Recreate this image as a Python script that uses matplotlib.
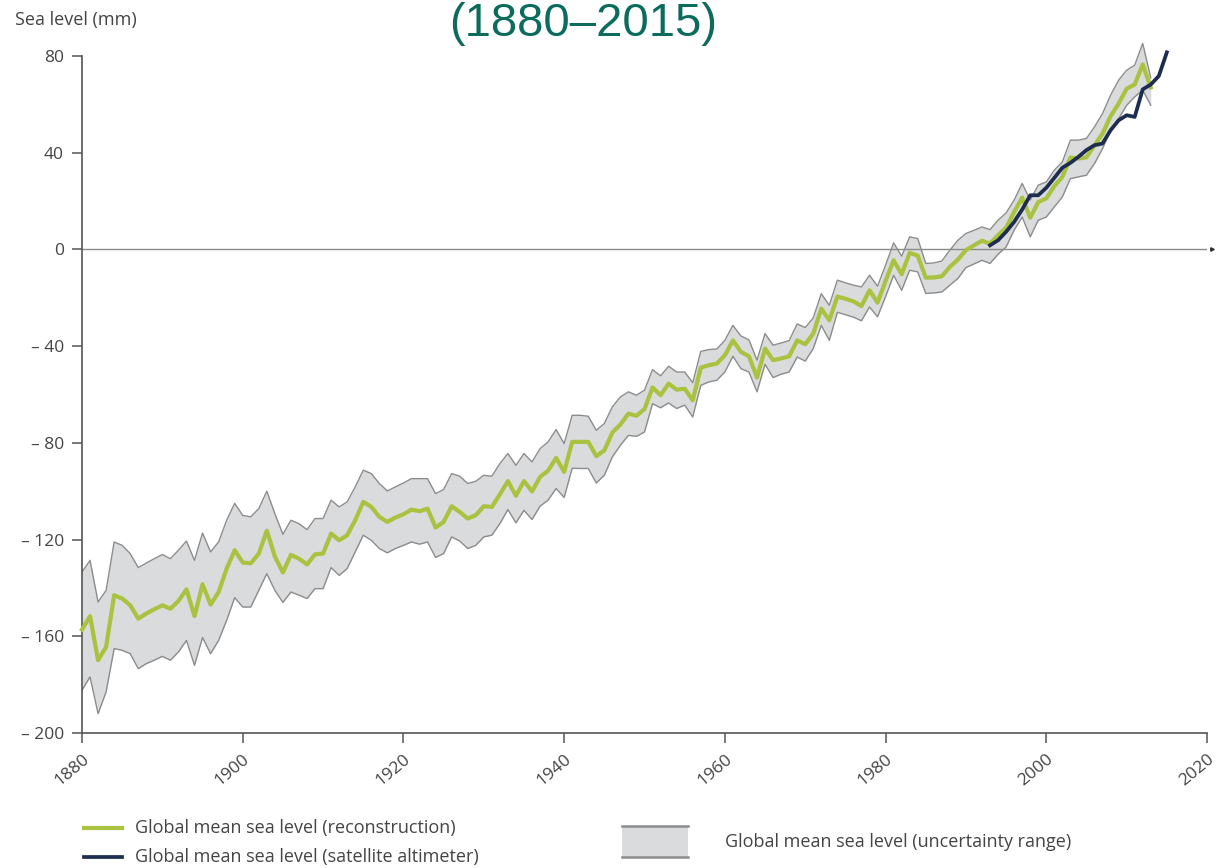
#!/usr/bin/env python3
"""
Global mean sea level, 1880-2015: tide-gauge reconstruction with its
uncertainty band, plus the satellite altimeter record.
"""

import numpy as np
import matplotlib
matplotlib.use("Agg")
import matplotlib.pyplot as plt
from matplotlib.lines import Line2D
from matplotlib.patches import Rectangle

# Reconstruction, yearly 1880-2013 (mm, relative to 1990s level)
recon_years = list(range(1880, 2014))
recon_mm = [
    -157.2, -151.7, -169.9, -164.4, -143.0, -144.4, -147.2, -152.7, -150.6, -148.8,
    -147.2, -148.6, -145.4, -140.6, -151.7, -138.5, -146.9, -141.7, -132.0, -124.4,
    -129.5, -129.8, -125.8, -116.3, -127.0, -133.6, -126.3, -127.9, -130.3, -126.1,
    -125.8, -117.5, -120.3, -118.2, -112.0, -104.4, -106.5, -110.6, -112.7, -110.9,
    -109.5, -107.6, -108.3, -107.2, -115.0, -112.7, -106.2, -108.6, -111.3, -109.9,
    -106.2, -106.5, -101.3, -95.8, -101.9, -95.8, -100.1, -94.1, -91.5, -86.2,
    -92.0, -79.6, -79.6, -79.6, -85.5, -83.1, -75.7, -72.4, -67.9, -68.8,
    -66.0, -57.1, -60.3, -55.5, -58.0, -57.6, -62.4, -48.9, -47.9, -47.2,
    -43.8, -37.6, -42.4, -44.2, -53.0, -41.0, -45.8, -45.1, -44.2, -37.6,
    -39.2, -34.8, -24.5, -29.3, -19.5, -20.4, -21.5, -23.4, -16.9, -22.0,
    -13.0, -4.5, -10.3, -1.4, -2.6, -11.7, -11.6, -11.1, -7.2, -4.2,
    -0.3, 1.7, 3.6, 2.4, 5.9, 9.0, 15.5, 21.4, 13.1, 19.6,
    21.1, 26.2, 30.0, 38.0, 37.6, 38.1, 43.1, 47.9, 55.1, 60.3,
    66.5, 68.2, 76.5, 67.0,
]
recon_upper = [
    -133.4, -128.6, -145.8, -141.0, -121.0, -122.4, -125.8, -131.6, -129.7, -127.9,
    -126.2, -127.9, -124.4, -120.6, -128.6, -117.3, -125.1, -121.0, -112.0, -105.0,
    -110.0, -110.6, -107.2, -100.0, -109.3, -117.8, -112.0, -113.4, -115.9, -111.3,
    -111.3, -103.7, -106.5, -104.4, -98.2, -91.3, -92.7, -96.8, -99.9, -98.2,
    -96.6, -94.8, -94.8, -94.8, -101.0, -99.3, -92.7, -93.8, -96.8, -95.9,
    -93.4, -93.8, -88.6, -84.4, -89.3, -84.4, -87.9, -82.4, -79.6, -74.5,
    -80.3, -68.6, -68.6, -69.0, -74.8, -72.0, -65.1, -61.0, -58.9, -60.3,
    -58.2, -49.7, -52.3, -48.3, -50.7, -50.7, -55.1, -42.2, -41.4, -41.2,
    -37.6, -31.4, -35.8, -37.4, -45.8, -34.8, -39.6, -38.7, -37.7, -30.8,
    -32.3, -28.3, -18.3, -23.1, -12.7, -13.8, -14.8, -15.5, -10.7, -15.2,
    -6.5, 2.7, -2.8, 5.2, 4.5, -5.8, -5.6, -4.8, -0.3, 3.8,
    6.6, 7.9, 9.3, 8.2, 12.1, 15.1, 20.4, 27.3, 20.4, 26.6,
    27.9, 32.8, 36.2, 45.2, 45.2, 45.9, 50.7, 56.2, 63.8, 70.0,
    74.1, 76.2, 85.2, 71.0,
]
recon_lower = [
    -182.3, -176.8, -192.0, -183.0, -165.1, -165.8, -167.2, -173.4, -171.3, -169.9,
    -168.3, -169.9, -166.5, -161.7, -172.0, -160.5, -167.2, -161.7, -153.4, -144.0,
    -147.9, -147.9, -141.0, -134.1, -141.0, -146.0, -141.7, -143.0, -144.4, -140.3,
    -140.3, -131.6, -134.8, -132.0, -125.1, -118.2, -120.3, -123.7, -125.5, -123.7,
    -122.4, -121.0, -121.9, -121.0, -127.4, -125.8, -118.9, -120.6, -123.7, -122.4,
    -118.9, -118.2, -113.4, -107.6, -113.1, -107.9, -111.7, -106.2, -103.7, -98.9,
    -102.6, -90.5, -90.6, -90.6, -96.6, -93.4, -85.8, -81.0, -76.9, -77.3,
    -75.5, -63.8, -65.5, -63.5, -65.8, -64.4, -69.3, -56.2, -54.8, -54.1,
    -50.7, -44.2, -49.3, -50.7, -58.9, -47.5, -53.0, -51.6, -50.7, -44.5,
    -46.2, -41.0, -31.4, -37.6, -26.0, -27.0, -28.0, -29.5, -23.8, -27.9,
    -19.5, -10.7, -16.9, -8.6, -9.3, -18.2, -18.0, -17.6, -14.8, -12.0,
    -7.5, -6.0, -4.5, -5.8, -2.0, 1.0, 8.0, 13.4, 5.2, 12.1,
    13.4, 17.6, 21.7, 29.3, 30.0, 30.7, 35.5, 41.7, 49.3, 54.1,
    59.6, 63.1, 65.9, 59.6,
]

# Satellite altimetry, yearly 1993-2015 (mm)
sat_years = list(range(1993, 2016))
sat_mm = [
    1.7, 3.8, 7.3, 11.4, 16.5, 22.4, 22.4, 25.5, 29.6, 33.8,
    35.8, 38.3, 41.1, 43.1, 43.8, 49.3, 53.4, 55.5, 54.8, 66.2,
    68.2, 71.7, 81.5,
]

y_ticks = [80, 40, 0, -40, -80, -120, -160, -200]
x_ticks = [1880, 1900, 1920, 1940, 1960, 1980, 2000, 2020]

GREEN = "#a9c23f"
NAVY = "#1c2d4f"
BAND = "#dadbdd"
BAND_EDGE = "#8c8c8c"
TEXT = "#444444"
AXIS = "#555555"

plt.rcParams["font.family"] = ["Open Sans", "DejaVu Sans"]

fig = plt.figure(figsize=(12.3, 8.68), dpi=100)
W, H = 1230, 868
ax = fig.add_axes([82 / W, 1 - 733 / H, (1207 - 82) / W, (733 - 56) / H])

# the series run a little above the 80 mm top of the axis, so no clipping
ax.fill_between(recon_years, recon_lower, recon_upper, color=BAND, lw=0,
                zorder=1, clip_on=False)
ax.plot(recon_years, recon_upper, color=BAND_EDGE, lw=1.0, zorder=2, clip_on=False)
ax.plot(recon_years, recon_lower, color=BAND_EDGE, lw=1.0, zorder=2, clip_on=False)
ax.axhline(0, color="#8a8a8a", lw=1.0, zorder=1.5)
ax.plot(recon_years, recon_mm, color=GREEN, lw=3.0, zorder=3, clip_on=False)
ax.plot(sat_years, sat_mm, color=NAVY, lw=2.7, zorder=4, clip_on=False)

ax.set_xlim(1880, 2020)
ax.set_ylim(-200, 80)
for side in ("top", "right"):
    ax.spines[side].set_visible(False)
for side in ("left", "bottom"):
    ax.spines[side].set_color(AXIS)
    ax.spines[side].set_linewidth(1.2)

ax.set_yticks(y_ticks)
ax.set_yticklabels([str(v) if v >= 0 else "\u2013 " + str(-v) for v in y_ticks])
ax.set_xticks(x_ticks)
ax.set_xticklabels([str(v) for v in x_ticks], rotation=40, ha="right",
                   va="top", rotation_mode="anchor")
ax.tick_params(axis="both", colors=AXIS, labelcolor=TEXT, labelsize=12.5,
               length=7, width=1.1)
ax.tick_params(axis="y", pad=6)
ax.tick_params(axis="x", pad=6)

# small end mark on the zero line
ax.plot([2020.6], [0], marker=">", ms=2.5, color="#333333", clip_on=False)

fig.text(15 / W, 1 - 20 / H, "Sea level (mm)", fontsize=13, color=TEXT,
         va="center", ha="left")
fig.text(583 / W, 1 - 24 / H, "(1880\u20132015)", fontsize=34, color="#0b6b5c",
         va="center", ha="center", family=["Liberation Sans", "DejaVu Sans"])

# legend drawn in figure pixels
def px(x, y):
    return x / W, 1 - y / H

for (y, col, lw, label) in [(828, GREEN, 3.0, "Global mean sea level (reconstruction)"),
                            (857, NAVY, 2.7, "Global mean sea level (satellite altimeter)")]:
    (x0, yy), (x1, _) = px(84, y), px(122, y)
    fig.add_artist(Line2D([x0, x1], [yy, yy], color=col, lw=lw))
    fig.text(*px(135, y), label, fontsize=13, color=TEXT, va="center", ha="left")

bx, by = px(622, 858)
fig.add_artist(Rectangle((bx, by), 66 / W, 32 / H, facecolor=BAND,
                         edgecolor="none", transform=fig.transFigure))
for y in (826, 857):
    (x0, yy), (x1, _) = px(622, y), px(688, y)
    fig.add_artist(Line2D([x0, x1], [yy, yy], color="#8c8c8c", lw=1.8))
fig.text(*px(725, 842), "Global mean sea level (uncertainty range)", fontsize=13,
         color=TEXT, va="center", ha="left")

fig.savefig("out.png", dpi=100)
